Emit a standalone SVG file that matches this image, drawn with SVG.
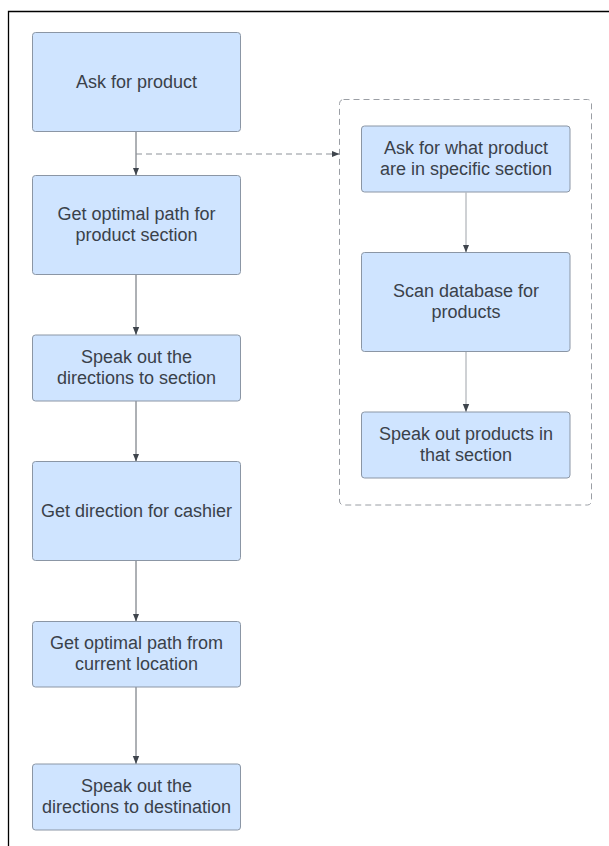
<svg xmlns="http://www.w3.org/2000/svg" width="609" height="846" viewBox="0 0 609 846">
  <style>
    .box { fill: #cfe4ff; stroke: #8b96a5; stroke-width: 1; }
    .lbl { font-family: "Liberation Sans", Arial, sans-serif; font-size: 18px; fill: #3a414a; text-anchor: middle; }
    .flow { fill: none; stroke: #5d636b; stroke-width: 1; }
    .flow-light { fill: none; stroke: #9ea3a9; stroke-width: 1; }
    .dash { fill: none; stroke: #8d9298; stroke-width: 1; stroke-dasharray: 6 4; }
  </style>
  <defs>
    <marker id="arrow" viewBox="0 0 8 8" refX="8" refY="4" markerWidth="8" markerHeight="8" markerUnits="userSpaceOnUse" orient="auto">
      <path d="M0,0.8 L8,4 L0,7.2 Z" fill="#3f454d"/>
    </marker>
  </defs>

  <rect width="609" height="846" fill="#ffffff"/>
  <!-- page frame -->
  <path d="M8.5,846 V11.5 H609" fill="none" stroke="#000000" stroke-width="1.3"/>

  <!-- subprocess container -->
  <rect id="container" x="339.5" y="99.5" width="252" height="405.5" rx="4" fill="none" stroke="#9a9ea4" stroke-width="1" stroke-dasharray="6 4"/>

  <g id="connectors">
    <path class="flow" d="M136,131.5 V175.5" marker-end="url(#arrow)"/>
    <path class="dash" d="M136,154 H339.5" marker-end="url(#arrow)"/>
    <path class="flow" d="M136,274.5 V335" marker-end="url(#arrow)"/>
    <path class="flow" d="M136,401 V461.5" marker-end="url(#arrow)"/>
    <path class="flow" d="M136,560.5 V621.5" marker-end="url(#arrow)"/>
    <path class="flow" d="M136,687 V764" marker-end="url(#arrow)"/>
    <path class="flow-light" d="M466,192.5 V252.5" marker-end="url(#arrow)"/>
    <path class="flow-light" d="M466,351.5 V412" marker-end="url(#arrow)"/>
  </g>

  <g id="ask-product">
    <rect class="box" x="32.5" y="32.5" width="208" height="99" rx="3"/>
    <text class="lbl" x="136.5" y="88">Ask for product</text>
  </g>
  <g id="optimal-path-section">
    <rect class="box" x="32.5" y="175.5" width="208" height="99" rx="3"/>
    <text class="lbl" x="136.5" y="220">Get optimal path for</text>
    <text class="lbl" x="136.5" y="241">product section</text>
  </g>
  <g id="speak-directions-section">
    <rect class="box" x="32.5" y="335" width="208" height="66" rx="3"/>
    <text class="lbl" x="136.5" y="363">Speak out the</text>
    <text class="lbl" x="136.5" y="384">directions to section</text>
  </g>
  <g id="direction-cashier">
    <rect class="box" x="32.5" y="461.5" width="208" height="99" rx="3"/>
    <text class="lbl" x="136.5" y="517">Get direction for cashier</text>
  </g>
  <g id="optimal-path-current">
    <rect class="box" x="32.5" y="621.5" width="208" height="65.5" rx="3"/>
    <text class="lbl" x="136.5" y="649">Get optimal path from</text>
    <text class="lbl" x="136.5" y="670">current location</text>
  </g>
  <g id="speak-directions-destination">
    <rect class="box" x="32.5" y="764" width="208" height="66" rx="3"/>
    <text class="lbl" x="136.5" y="792">Speak out the</text>
    <text class="lbl" x="136.5" y="813">directions to destination</text>
  </g>

  <g id="ask-section-products">
    <rect class="box" x="361.5" y="126" width="208.5" height="66" rx="3"/>
    <text class="lbl" x="466" y="154">Ask for what product</text>
    <text class="lbl" x="466" y="175">are in specific section</text>
  </g>
  <g id="scan-database">
    <rect class="box" x="361.5" y="252.5" width="208.5" height="99" rx="3"/>
    <text class="lbl" x="466" y="297">Scan database for</text>
    <text class="lbl" x="466" y="318">products</text>
  </g>
  <g id="speak-section-products">
    <rect class="box" x="361.5" y="412" width="208.5" height="66" rx="3"/>
    <text class="lbl" x="466" y="440">Speak out products in</text>
    <text class="lbl" x="466" y="461">that section</text>
  </g>
</svg>
